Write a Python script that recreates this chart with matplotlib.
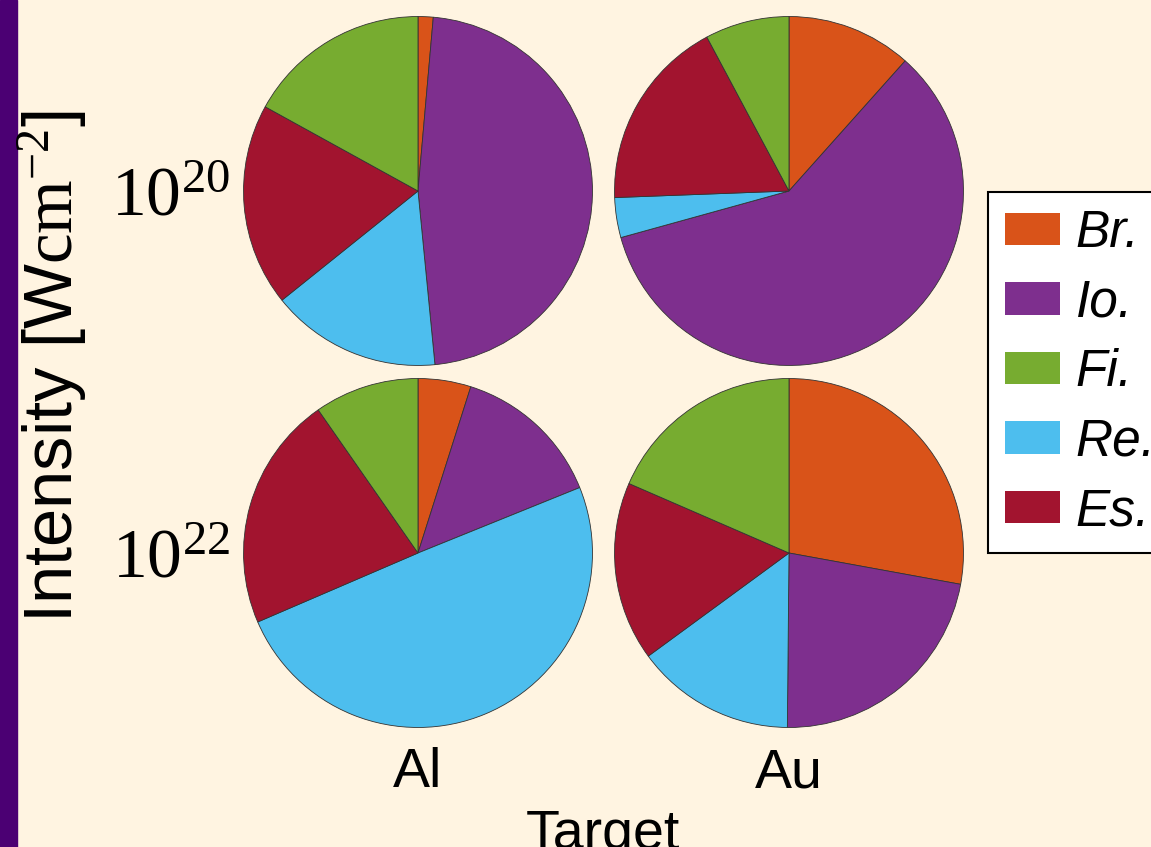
import matplotlib.pyplot as plt
from matplotlib.patches import Patch, Rectangle

plt.rcParams['font.family'] = ['Liberation Sans', 'DejaVu Sans']
plt.rcParams['mathtext.fontset'] = 'custom'
plt.rcParams['mathtext.rm'] = 'Liberation Serif'
plt.rcParams['mathtext.it'] = 'Liberation Serif:italic'

# data (percent), wedge order clockwise from 12 o'clock
wedge_names = ['Br.', 'Io.', 'Re.', 'Es.', 'Fi.']
al_1e20 = [1.4, 47.1, 15.8, 18.8, 17.0]
au_1e20 = [11.6, 59.1, 3.7, 17.8, 7.8]
al_1e22 = [4.9, 14.0, 49.7, 21.8, 9.7]
au_1e22 = [27.9, 22.3, 14.8, 16.6, 18.5]

targets = ['Al', 'Au']
intensities = [r'$10^{20}$', r'$10^{22}$']
legend_names = ['Br.', 'Io.', 'Fi.', 'Re.', 'Es.']

colors = {'Br.': '#D95319', 'Io.': '#7E2F8E', 'Fi.': '#77AC30',
          'Re.': '#4DBEEE', 'Es.': '#A2142F'}
bg = '#FFF4E1'

W, H = 1151, 847
fig = plt.figure(figsize=(W / 100, H / 100), dpi=100, facecolor=bg)

# purple strip on the left
fig.patches.append(Rectangle((0, 0), 17 / W, 1, transform=fig.transFigure,
                             color='#4B0073', zorder=0))

grid = [[al_1e20, au_1e20], [al_1e22, au_1e22]]
cx = [418, 789]
cy = [191, 553]
r = 175

for i in range(2):
    for j in range(2):
        ax = fig.add_axes([(cx[j] - r) / W, 1 - (cy[i] + r) / H, 2 * r / W, 2 * r / H])
        ax.pie(grid[i][j], colors=[colors[n] for n in wedge_names],
               startangle=90, counterclock=False,
               wedgeprops=dict(edgecolor='#333333', linewidth=0.6))
        ax.set_xlim(-1.003, 1.003)
        ax.set_ylim(-1.003, 1.003)
        ax.set_aspect('equal')
        ax.axis('off')

# row labels
for i, lab in enumerate(intensities):
    fig.text(230 / W, 1 - (cy[i] + 24) / H, lab, fontsize=50,
             ha='right', va='baseline')

# column labels
for j, lab in enumerate(targets):
    fig.text(cx[j] / W, 1 - 787 / H, lab, fontsize=40, ha='center', va='baseline')

fig.text(603 / W, 1 - 849 / H, 'Target', fontsize=40, ha='center', va='baseline')
fig.text(52 / W, 1 - 367 / H, r'Intensity [W$\mathrm{cm}^{-2}$]', fontsize=49.5,
         rotation=90, ha='center', va='center')

handles = [Patch(facecolor=colors[n], edgecolor='none') for n in legend_names]
leg = fig.legend(handles, legend_names, loc='upper left',
                 bbox_to_anchor=(988 / W, 1 - 192 / H),
                 prop=dict(style='italic', size=37),
                 handlelength=1.08, handleheight=0.6, handletextpad=0.3,
                 labelspacing=0.4, borderpad=0.33, borderaxespad=0,
                 fancybox=False, framealpha=1)
leg.get_frame().set_edgecolor('black')
leg.get_frame().set_linewidth(1.5)
leg.get_frame().set_facecolor('white')

fig.savefig('out.png', dpi=100, facecolor=bg)
